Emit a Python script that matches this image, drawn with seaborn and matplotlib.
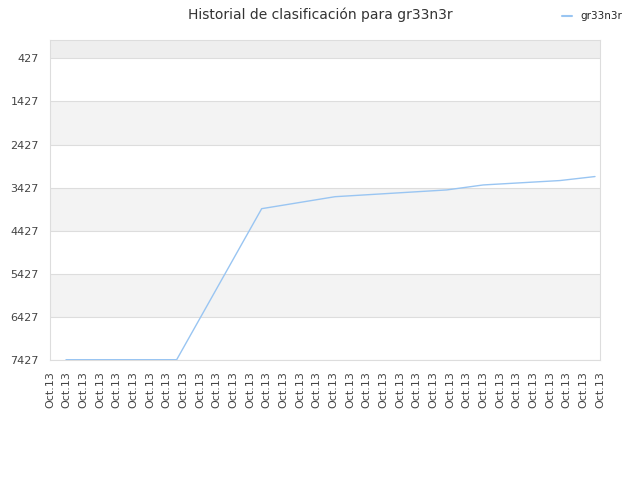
import matplotlib
matplotlib.use("Agg")
import matplotlib.pyplot as plt
import pandas as pd
import seaborn as sns

# position along the date axis (in tick steps) and rank at that moment
positions = [0.96, 7.60, 12.70, 17.10, 23.80, 26.00, 30.60, 32.70]
ranks = [7420, 7420, 3915, 3637, 3480, 3364, 3262, 3169]

n_ticks = 34
tick_labels = ["Oct.13"] * n_ticks
y_ticks = [427, 1427, 2427, 3427, 4427, 5427, 6427, 7427]

df = pd.DataFrame({"pos": positions, "rank": ranks, "player": "gr33n3r"})

sns.set_style("white")
plt.rcParams["font.family"] = ["DejaVu Sans"]

fig = plt.figure(figsize=(6.4, 4.8), dpi=100)
ax = fig.add_axes([50 / 640, 1 - 360 / 480, 550 / 640, 320 / 480])

# alternating bands
ax.axhspan(0, 427, color="#eeeeee", zorder=0, lw=0)
for lo in [1427, 3427, 5427]:
    ax.axhspan(lo, lo + 1000, color="#f3f3f3", zorder=0, lw=0)
for t in y_ticks:
    ax.axhline(t, color="#dddddd", lw=0.8, zorder=1)

sns.lineplot(data=df, x="pos", y="rank", hue="player", palette=["#99c5f2"],
             linewidth=1, ax=ax, zorder=3)

ax.set_xlim(0, n_ticks - 1)
ax.set_ylim(7427, 0)
ax.set_xticks(range(n_ticks))
ax.set_xticklabels(tick_labels, rotation=90, fontsize=8, color="#444444")
ax.set_yticks(y_ticks)
ax.set_yticklabels([str(t) for t in y_ticks], fontsize=8, color="#444444")
ax.tick_params(axis="both", length=0, pad=8)
ax.set_xlabel("")
ax.set_ylabel("")

for s in ax.spines.values():
    s.set_color("#dddddd")
    s.set_linewidth(0.8)

fig.suptitle("Historial de clasificación para gr33n3r", fontsize=10,
             color="#333333", y=0.985)

handles, labels = ax.get_legend_handles_labels()
ax.get_legend().remove()
leg = fig.legend(handles, labels, loc="upper right",
                 bbox_to_anchor=(632 / 640, 1 - 2 / 480),
                 frameon=False, fontsize=7.5, handlelength=1.0,
                 handletextpad=0.8)
for line in leg.get_lines():
    line.set_linewidth(1.5)

fig.savefig("out.png", dpi=100)
